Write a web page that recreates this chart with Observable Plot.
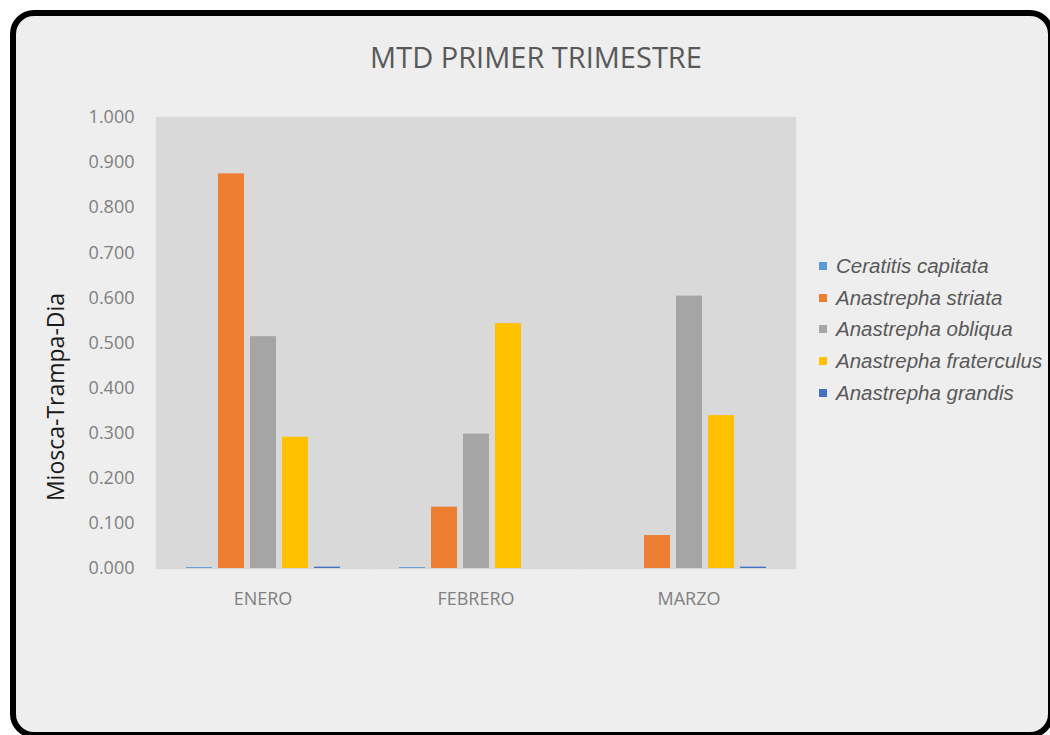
<!DOCTYPE html>
<html>
<head>
<meta charset="utf-8">
<script src="https://cdn.jsdelivr.net/npm/d3@7"></script>
<script src="https://cdn.jsdelivr.net/npm/@observablehq/plot@0.6"></script>
<style>
  html, body { margin: 0; padding: 0; background: #ffffff; width: 1050px; height: 735px; overflow: hidden; }
  #frame { position: absolute; left: 10px; top: 10px; width: 1044px; height: 728px; box-sizing: border-box;
           border: 6px solid #000; border-radius: 24px; background: #eeeeee; }
  #title { position: absolute; left: 536px; top: 56px; transform: translate(-50%, -50%); line-height: 1;
           font-family: "Open Sans", sans-serif; font-size: 29px; color: #595959; white-space: nowrap; }
  #ylabel { position: absolute; left: 55px; top: 397px; transform: translate(-50%, -50%) rotate(-90deg); line-height: 1;
            font-family: "Open Sans", sans-serif; font-size: 23px; color: #1a1a1a; white-space: nowrap; }
  #chart { position: absolute; left: 0; top: 0; }
  #legend { position: absolute; left: 819px; top: 250px; font-family: "Liberation Sans", Arial, sans-serif;
            font-style: italic; font-size: 20.5px; color: #595959; }
  .row { display: flex; align-items: center; height: 31.7px; white-space: nowrap; }
  .sw { width: 8px; height: 8px; margin-right: 9px; flex: none; }
</style>
</head>
<body>
<div id="frame"></div>
<div id="title"></div>
<div id="ylabel"></div>
<div id="chart"></div>
<div id="legend"></div>
<script>
const titleText = "MTD PRIMER TRIMESTRE";
const yLabel = "Miosca-Trampa-Dia";
const months = ["ENERO", "FEBRERO", "MARZO"];
const species = ["Ceratitis capitata", "Anastrepha striata", "Anastrepha obliqua", "Anastrepha fraterculus", "Anastrepha grandis"];
const colors = ["#5b9bd5", "#ed7d31", "#a5a5a5", "#ffc000", "#4472c4"];
const ceratitis = [0.002, 0.002, 0.000];
const striata = [0.875, 0.136, 0.073];
const obliqua = [0.514, 0.298, 0.604];
const fraterculus = [0.291, 0.543, 0.339];
const grandis = [0.003, 0.000, 0.003];
const yTicks = [0, 0.1, 0.2, 0.3, 0.4, 0.5, 0.6, 0.7, 0.8, 0.9, 1.0];

const series = [ceratitis, striata, obliqua, fraterculus, grandis];
const data = [];
months.forEach((m, i) => species.forEach((s, j) => data.push({month: m, species: s, value: series[j][i]})));

document.getElementById("title").textContent = titleText;
document.getElementById("ylabel").textContent = yLabel;

const chart = Plot.plot({
  width: 1050,
  height: 735,
  marginLeft: 155,
  marginRight: 255,
  marginTop: 117,
  marginBottom: 167,
  style: {background: "transparent", fontFamily: "Open Sans, sans-serif", fontSize: "18px", color: "#808080", overflow: "visible"},
  fx: {domain: months, padding: 0, label: null, tickSize: 0, tickPadding: 24},
  x: {domain: species, paddingInner: 0.2, paddingOuter: 0.88, axis: null},
  y: {domain: [0, 1], ticks: yTicks, tickFormat: d3.format(".3f"), tickSize: 0, tickPadding: 22, label: null},
  color: {domain: species, range: colors},
  marks: [
    Plot.frame({fill: "#d9d9d9", stroke: "#d9d9d9", strokeWidth: 1.5}),
    Plot.barY(data, {fx: "month", x: "species", y: "value", fill: "species"})
  ]
});
document.getElementById("chart").appendChild(chart);

const legend = document.getElementById("legend");
species.forEach((s, i) => {
  const row = document.createElement("div");
  row.className = "row";
  const sw = document.createElement("span");
  sw.className = "sw";
  sw.style.background = colors[i];
  const t = document.createElement("span");
  t.textContent = s;
  row.appendChild(sw);
  row.appendChild(t);
  legend.appendChild(row);
});
</script>
</body>
</html>
